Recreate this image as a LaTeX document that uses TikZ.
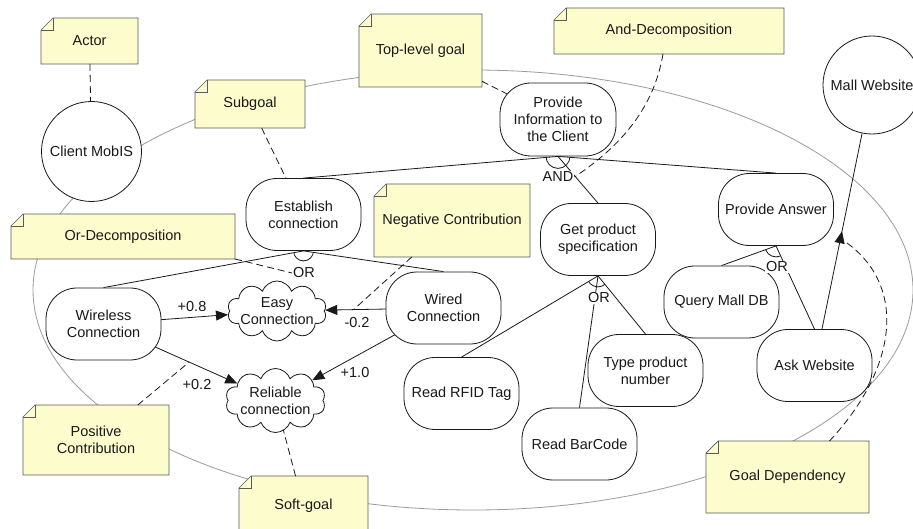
\documentclass[tikz,border=0pt]{standalone}
\usepackage{fontspec}
\setmainfont{Liberation Sans}
\usetikzlibrary{shapes.symbols,shapes.misc,arrows.meta,decorations.markings,calc}
\pgfdeclarelayer{bg}
\pgfdeclarelayer{edges}
\pgfsetlayers{bg,edges,main}
\definecolor{notefill}{RGB}{253,252,204}
\definecolor{notedraw}{RGB}{90,90,90}
\definecolor{boundgray}{RGB}{155,155,155}
\definecolor{ink}{RGB}{25,25,25}
\begin{document}
\begin{tikzpicture}[x=1pt,y=-1pt,
  every node/.style={font=\fontsize{14.5pt}{17pt}\selectfont, text=ink},
  goal/.style={draw=ink, fill=white, rectangle, rounded corners=31pt, minimum width=115pt, minimum height=72pt, align=center, inner sep=2pt, line width=0.8pt},
  actor/.style={draw=ink, fill=white, circle, align=center, inner sep=0pt, line width=0.8pt},
  soft/.style={draw=ink, fill=white, cloud, cloud puffs=10, cloud puff arc=140, cloud ignores aspect, align=center, inner xsep=-10pt, inner ysep=-8pt, line width=0.8pt},
  notetext/.style={align=center, inner sep=0pt, outer sep=0pt},
  notebg/.style={fill=notefill, draw=notedraw, line width=0.7pt},
  decomp/.style={draw=ink, line width=0.8pt},
  contrib/.style={draw=ink, line width=0.8pt, -{Triangle[length=12pt,width=10pt]}},
  deplink/.style={draw=ink, line width=0.8pt, postaction={decorate}, decoration={markings, mark=at position 0.5 with {\arrow{Triangle[length=12pt,width=10pt]}}}},
  notelink/.style={draw=ink, line width=0.8pt, dash pattern=on 7pt off 4pt},
  declbl/.style={fill=white, inner sep=1pt},
  boundary/.style={draw=boundgray, line width=0.8pt}
]
\useasboundingbox (0,0) rectangle (913,529);

% actors
\node[actor, minimum size=100pt] (aClient) at (91.5,151.5) {Client MobIS};
\node[actor, minimum size=98pt] (aMall) at (872,85) {Mall Website};

% goals
\node[goal, minimum width=116pt, minimum height=73pt] (gPI) at (558,119.5) {Provide\\Information to\\the Client};
\node[goal] (gEst) at (303.5,214.5) {Establish\\connection};
\node[goal] (gWl) at (103.5,324) {Wireless\\Connection};
\node[goal] (gWd) at (443.5,308) {Wired\\Connection};
\node[goal] (gGPS) at (598,239.5) {Get product\\specification};
\node[goal] (gPA) at (776,209.5) {Provide Answer};
\node[goal] (gQM) at (721.5,302) {Query Mall DB};
\node[goal] (gAW) at (814.5,365.5) {Ask Website};
\node[goal] (gTP) at (645.5,370.5) {Type product\\number};
\node[goal] (gRF) at (461.5,393.5) {Read RFID Tag};
\node[goal] (gBC) at (579.5,444) {Read BarCode};

% softgoals
\node[soft, minimum width=99pt, minimum height=60pt] (sEasy) at (277,311) {Easy\\Connection};
\node[soft, minimum width=100pt, minimum height=64pt] (sRel) at (275.5,400.5) {Reliable\\connection};

% notes (text)
\node[notetext, minimum width=97pt, minimum height=46pt] (nActor) at (89.5,41) {Actor};
\node[notetext, minimum width=110pt, minimum height=48pt] (nSub) at (250,104) {Subgoal};
\node[notetext, minimum width=123pt, minimum height=73pt] (nTop) at (420.5,50.5) {Top-level goal};
\node[notetext, minimum width=230pt, minimum height=46pt] (nAnd) at (669,31) {And-Decomposition};
\node[notetext, minimum width=224pt, minimum height=45pt] (nOr) at (123,236.5) {Or-Decomposition};
\node[notetext, minimum width=156pt, minimum height=73pt] (nNeg) at (452,220.5) {Negative Contribution};
\node[notetext, minimum width=146pt, minimum height=70pt] (nPos) at (96,440) {Positive\\Contribution};
\node[notetext, minimum width=129pt, minimum height=60pt] (nSoft) at (303.5,506) {Soft-goal};
\node[notetext, minimum width=163pt, minimum height=72pt] (nGD) at (787.5,477) {Goal Dependency};

% decomposition labels
\node[declbl] (lAnd) at (558,177) {AND};
\node[declbl] (lOr1) at (304,273) {OR};
\node[declbl] (lOr2) at (599,298) {OR};
\node[declbl] (lOr3) at (777,267) {OR};

% contribution labels
\node (c1) at (192,307) {+0.8};
\node (c2) at (197,385) {+0.2};
\node (c3) at (357,323) {-0.2};
\node (c4) at (355,373) {+1.0};

\begin{pgfonlayer}{bg}
  \fill[white] (0,0) rectangle (913,529);
  \draw[boundary] (473,290) ellipse [x radius=440pt, y radius=220pt];
  \foreach \n in {nActor,nSub,nTop,nAnd,nOr,nNeg,nPos,nSoft,nGD}{
    \path[notebg] ([xshift=12pt]\n.north west) -- (\n.north east) -- (\n.south east) -- (\n.south west) -- ([yshift=-12pt]\n.north west) -- cycle;
    \draw[notedraw, line width=0.7pt] ([yshift=-12pt]\n.north west) -- ([xshift=12pt,yshift=-12pt]\n.north west) -- ([xshift=12pt]\n.north west);
  }
\end{pgfonlayer}

\begin{pgfonlayer}{edges}
  % AND decomposition
  \draw[decomp] (gPI.south) -- (gEst.north);
  \draw[decomp] (gPI.south) -- (gGPS.north);
  \draw[decomp] (gPI.south) -- (gPA.north);
  \begin{scope}
    \clip (gPI.south) -- (gEst.north) -- (gPA.north) -- cycle;
    \draw[decomp] (gPI.south) circle[radius=12pt];
  \end{scope}
  % OR decomposition of Establish
  \draw[decomp] (gEst.south) -- (gWl.north);
  \draw[decomp] (gEst.south) -- (gWd.north);
  \begin{scope}
    \clip (gEst.south) -- (gWl.north) -- (gWd.north) -- cycle;
    \draw[decomp] (gEst.south) circle[radius=10pt];
  \end{scope}
  % OR decomposition of Get product specification
  \draw[decomp] (gGPS.south) -- (gRF.north);
  \draw[decomp] (gGPS.south) -- (gBC.north);
  \draw[decomp] (gGPS.south) -- (gTP.north);
  \begin{scope}
    \clip (gGPS.south) -- (gRF.north) -- (gTP.north) -- cycle;
    \draw[decomp] (gGPS.south) circle[radius=11pt];
  \end{scope}
  % OR decomposition of Provide Answer
  \draw[decomp] (gPA.south) -- (gQM.north);
  \draw[decomp] (gPA.south) -- (gAW.north);
  \begin{scope}
    \clip (gPA.south) -- (gQM.north) -- (gAW.north) -- cycle;
    \draw[decomp] (gPA.south) circle[radius=11pt];
  \end{scope}
  % contributions
  \draw[contrib] (gWl.center) -- (sEasy);
  \draw[contrib] (gWl.center) -- coordinate[pos=0.64] (posc) (sRel);
  \draw[contrib] (gWd.center) -- coordinate[pos=0.76] (negc) (sEasy);
  \draw[contrib] (gWd.center) -- (sRel);
  % dependency
  \draw[deplink] (gAW) -- coordinate[pos=0.42] (depc) (aMall);
  \coordinate (gdend) at ([xshift=8pt,yshift=4pt]depc);
  % note links
  \draw[notelink] (nActor) -- (aClient);
  \draw[notelink] (nSub) -- (gEst.center);
  \draw[notelink] (nTop) -- (gPI.center);
  \draw[notelink] ([xshift=-6pt]nAnd.south) .. controls (655,100) and (630,140) .. (lAnd.east);
  \draw[notelink] (nOr.south east) -- (lOr1.west);
  \draw[notelink] (nNeg) -- (negc);
  \draw[notelink] (nPos) -- (posc);
  \draw[notelink] (nSoft) -- (sRel.center);
  \draw[notelink] ([xshift=42pt]nGD.north) .. controls (900,365) and (905,285) .. (gdend);
\end{pgfonlayer}
\end{tikzpicture}
\end{document}
